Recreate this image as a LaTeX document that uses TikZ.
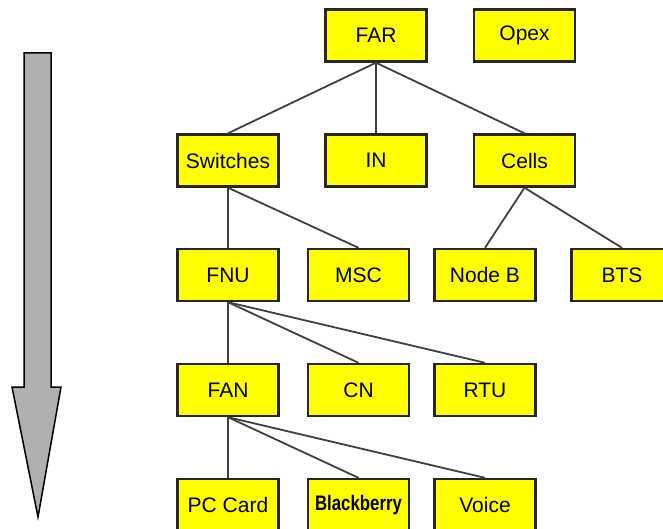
\documentclass[tikz,border=0pt]{standalone}
\usepackage{fontspec}
\setmainfont{Liberation Sans}
\usepackage{tikz}
\usetikzlibrary{positioning}

\definecolor{boxyellow}{RGB}{255,255,0}
\definecolor{linegray}{RGB}{64,64,64}
\definecolor{arrowgray}{RGB}{176,176,176}

\begin{document}
\begin{tikzpicture}[
    x=1pt, y=-1pt,
    box/.style={draw=black!85, line width=2.4pt, fill=boxyellow, minimum width=101pt, minimum height=52pt, inner sep=0pt, font=\fontsize{21}{24}\selectfont},
    link/.style={draw=linegray, line width=1.8pt}
]
    \useasboundingbox (0,0) rectangle (663,529);
    \clip (0,0) rectangle (663,529);

    % big arrow on the left
    \draw[fill=arrowgray, line width=1.5pt] (24,53) -- (51,53) -- (51,387) -- (61,387) -- (38,517) -- (12,387) -- (24,387) -- cycle;

    % top level
    \node[box] (far) at (376,35.5) {FAR};
    \node[box] (opex) at (524.5,35.5) {Opex};

    \node[box] (switches) at (228,160.5) {Switches};
    \node[box] (in) at (376,160.5) {IN};
    \node[box] (cells) at (524.5,160.5) {Cells};

    \node[box] (fnu) at (228,275) {FNU};
    \node[box] (msc) at (358.5,275) {MSC};
    \node[box] (nodeb) at (485,275) {Node B};
    \node[box] (bts) at (622,275) {BTS};

    \node[box] (fan) at (228,390) {FAN};
    \node[box] (cn) at (358.5,390) {CN};
    \node[box] (rtu) at (485,390) {RTU};

    \node[box] (pccard) at (228,505) {PC Card};
    \node[box] (blackberry) at (358.5,505) {\bfseries\scalebox{0.8}[1]{Blackberry}};
    \node[box] (voice) at (485,505) {Voice};

    % tree links
    \foreach \child in {switches,in,cells}
        \draw[link] (far.south) -- (\child.north);
    \foreach \child in {fnu,msc}
        \draw[link] (switches.south) -- (\child.north);
    \foreach \child in {nodeb,bts}
        \draw[link] (cells.south) -- (\child.north);
    \foreach \child in {fan,cn,rtu}
        \draw[link] (fnu.south) -- (\child.north);
    \foreach \child in {pccard,blackberry,voice}
        \draw[link] (fan.south) -- (\child.north);
\end{tikzpicture}
\end{document}
